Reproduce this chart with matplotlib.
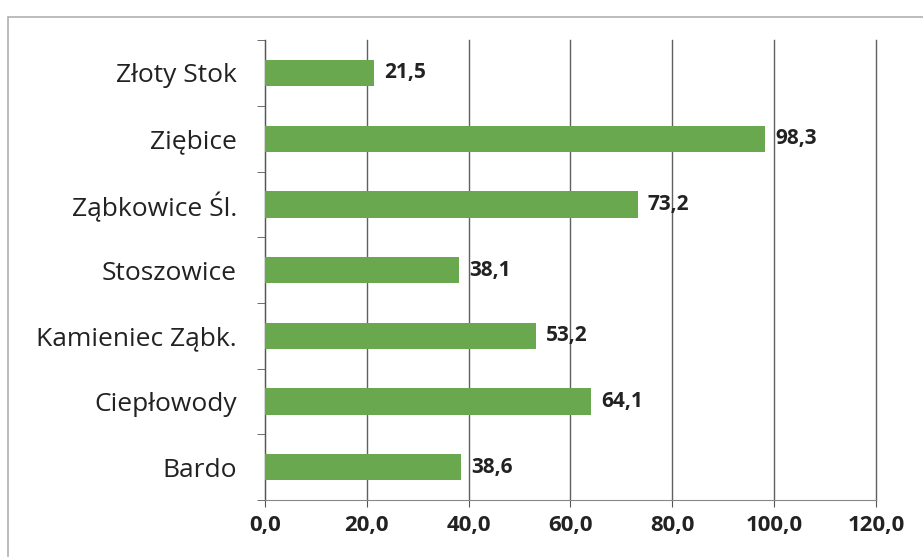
import matplotlib.pyplot as plt
from matplotlib.patches import Rectangle
import numpy as np

categories = ['Złoty Stok', 'Ziębice', 'Ząbkowice Śl.', 'Stoszowice',
              'Kamieniec Ząbk.', 'Ciepłowody', 'Bardo']
values = [21.5, 98.3, 73.2, 38.1, 53.2, 64.1, 38.6]
xticks = [0, 20, 40, 60, 80, 100, 120]
xtick_labels = ['0,0', '20,0', '40,0', '60,0', '80,0', '100,0', '120,0']

plt.rcParams['font.family'] = ['Open Sans', 'DejaVu Sans']

fig = plt.figure(figsize=(9.23, 5.57), dpi=100)
ax = fig.add_axes([0.287, 0.102, 0.662, 0.826])

# outer frame of the chart
fig.patches.append(Rectangle((0.009, -0.05), 1.1, 1.019, transform=fig.transFigure,
                             fill=False, edgecolor='#b0b0b0', linewidth=1.2))

y = np.arange(len(categories))
ax.barh(y, values, height=0.4, color='#6aa84f', zorder=3)
for yi, v in zip(y, values):
    ax.text(v + 2, yi, f'{v:.1f}'.replace('.', ','), va='center', ha='left',
            fontsize=15, fontweight='bold', color='#222222', zorder=4)

ax.set_xlim(0, 120)
ax.set_ylim(len(categories) - 0.5, -0.5)
ax.set_yticks(y)
ax.set_yticklabels(categories, fontsize=19, color='#222222')
ax.set_yticks(np.arange(len(categories) + 1) - 0.5, minor=True)
ax.tick_params(axis='y', which='major', length=0, pad=20)
ax.tick_params(axis='y', which='minor', length=6, color='#555555')
ax.set_xticks(xticks)
ax.set_xticklabels(xtick_labels, fontsize=16, fontweight='bold', color='#222222')
ax.tick_params(axis='x', length=5, color='#555555', pad=6)

ax.grid(axis='x', color='#606060', linewidth=1.0, zorder=0)
for gl in ax.get_xgridlines():
    gl.set_clip_on(False)
for s in ['top', 'right']:
    ax.spines[s].set_visible(False)
ax.spines['left'].set_color('#555555')
ax.spines['bottom'].set_color('#888888')

fig.savefig('out.png', dpi=100)
